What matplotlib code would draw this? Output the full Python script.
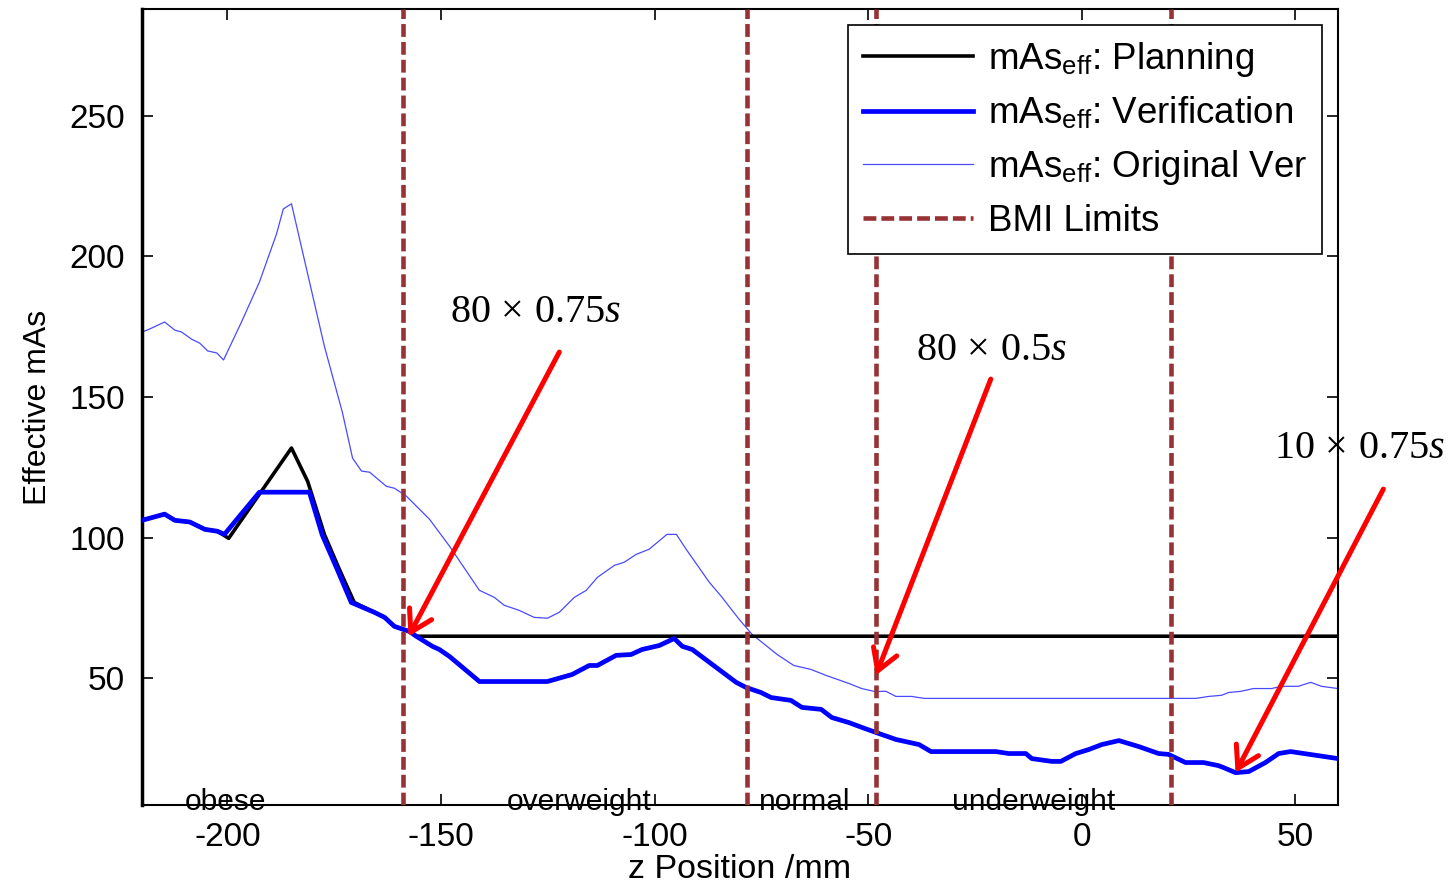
import numpy as np
import matplotlib
matplotlib.use('Agg')
import matplotlib.pyplot as plt

plt.rcParams['font.family'] = ['Liberation Sans', 'DejaVu Sans']
plt.rcParams['mathtext.fontset'] = 'custom'
plt.rcParams['mathtext.rm'] = 'Liberation Serif'
plt.rcParams['mathtext.it'] = 'Liberation Serif:italic'
plt.rcParams['mathtext.sf'] = 'Liberation Sans'
plt.rcParams['axes.unicode_minus'] = False

# planning curve (flat at 65 after the obese region)
plan_z = [-220, -214.7, -212.3, -208.8, -205.3, -202.3, -199.7, -185.0, -181.2,
          -177.3, -173.8, -170.3, -165.6, -163.2, -160.9, -157.4, -155.8, 60]
plan_mas = [106.2, 108.4, 106.2, 105.6, 103.0, 102.3, 99.8, 131.9, 120.0,
            101.2, 88.8, 77.0, 73.5, 71.7, 68.5, 66.7, 65.0, 65.0]

# verification curve
ver_z = [-220, -214.7, -212.3, -208.8, -205.3, -202.3, -200.7, -192.5, -180.8,
         -177.8, -174.3, -171.0, -165.6, -163.2, -160.9, -157.4, -155.8, -152.0,
         -150.4, -148.0, -141.0, -125.1, -119.3, -115.3, -113.4, -109.0, -105.5,
         -102.9, -98.9, -95.4, -93.5, -91.2, -80.9, -78.6, -75.1, -72.7, -68.1,
         -65.5, -61.0, -58.5, -54.5, -51.5, -48.2, -43.5, -38.1, -35.3, -20.1,
         -17.1, -13.1, -11.7, -7.0, -4.9, -1.4, 1.6, 4.7, 8.7, 13.3, 18.0, 20.3,
         24.3, 28.5, 32.0, 33.2, 36.0, 39.1, 43.0, 46.1, 48.9, 60]
ver_mas = [106.2, 108.4, 106.2, 105.6, 103.0, 102.3, 101.2, 116.2, 116.2,
           101.0, 88.8, 77.0, 73.5, 71.7, 68.5, 66.7, 65.0, 61.4,
           60.3, 57.8, 48.9, 48.9, 51.4, 54.6, 54.6, 58.2, 58.5,
           60.3, 61.7, 64.2, 61.4, 60.3, 48.6, 46.8, 45.0, 43.2, 42.2,
           39.7, 39.0, 36.1, 34.3, 32.6, 30.8, 28.3, 26.5, 24.0, 24.0,
           23.3, 23.3, 21.5, 20.5, 20.5, 23.3, 24.7, 26.5, 27.9, 25.8, 23.3, 23.0,
           20.1, 20.1, 19.0, 18.3, 16.5, 16.9, 20.1, 23.3, 24.0, 21.5]

# original verification curve
orig_z = [-220, -218.2, -214.7, -212.3, -210.7, -208.4, -206.5, -204.6, -202.5,
          -200.9, -196.7, -192.5, -188.5, -186.9, -185.0, -182.4, -177.3, -173.1,
          -170.7, -168.6, -166.7, -162.8, -160.9, -158.1, -152.7, -148.0, -141.0,
          -137.5, -135.2, -131.7, -128.2, -125.1, -122.3, -118.8, -116.0, -113.4,
          -109.4, -107.1, -104.3, -101.3, -97.1, -94.9, -92.6, -87.2, -84.4, -80.2,
          -77.2, -71.3, -67.4, -63.4, -59.9, -54.5, -51.5, -48.6, -45.8, -43.5,
          -39.8, -36.9, 26.7, 29.7, 32.7, 34.4, 37.2, 40.2, 44.4, 46.8, 50.7,
          53.6, 56.1, 60]
orig_mas = [173.1, 174.2, 176.7, 173.8, 173.1, 170.6, 169.2, 166.4, 165.7,
            163.2, 176.7, 190.9, 208.0, 216.9, 218.7, 201.6, 168.1, 144.7,
            128.3, 123.7, 123.3, 118.3, 117.6, 114.8, 106.6, 97.0, 81.3,
            78.8, 76.0, 74.2, 71.7, 71.4, 73.5, 78.8, 81.3, 85.9,
            90.2, 91.3, 94.1, 95.9, 101.2, 101.2, 95.9, 84.2, 79.2, 71.0,
            65.7, 58.5, 54.6, 53.2, 51.1, 48.2, 46.4, 45.4, 45.4, 43.6,
            43.6, 42.9, 42.9, 43.6, 44.0, 45.0, 45.4, 46.4, 46.4, 47.2, 47.2,
            48.6, 47.2, 46.4]

bmi_limits = [-159.0, -78.3, -48.2, 20.8]
bmi_names = ['obese', 'overweight', 'normal', 'underweight']
bmi_name_z = [-200.4, -117.6, -64.8, -11.2]

# annotations: label, text position, arrow tail, arrow head
notes = [r'$\mathrm{80}\,\times\,\mathrm{0.75}s$', r'$\mathrm{80}\,\times\,\mathrm{0.5}s$',
         r'$\mathrm{10}\,\times\,\mathrm{0.75}s$']
note_xy = [(-148.0, 180.6), (-38.8, 167.1), (44.9, 132.2)]
tail_xy = [(-122.3, 166.0), (-21.3, 156.4), (70.6, 117.3)]
head_xy = [(-157.6, 64.9), (-48.2, 51.1), (36.0, 16.5)]

fig = plt.figure(figsize=(14.56, 8.86), dpi=100)
ax = fig.add_axes([0.0975, 0.0914, 0.8215, 0.8986])

brown = '#983234'
ax.plot(plan_z, plan_mas, color='black', lw=2.6, label=r'mAs$_{\mathsf{eff}}$: Planning', zorder=3)
ax.plot(ver_z, ver_mas, color='#0000ff', lw=3.4, label=r'mAs$_{\mathsf{eff}}$: Verification', zorder=4)
ax.plot(orig_z, orig_mas, color='#4a4aff', lw=0.9, label=r'mAs$_{\mathsf{eff}}$: Original Ver', zorder=2)
for i, z in enumerate(bmi_limits):
    ax.axvline(z, color=brown, lw=3.3, linestyle=(0, (2.8, 1.1)),
               label='BMI Limits' if i == 0 else None, zorder=5)

for name, z in zip(bmi_names, bmi_name_z):
    ax.text(z, 6.0, name, ha='center', va='center', fontsize=21.5, zorder=6)

for txt, pos, tail, head in zip(notes, note_xy, tail_xy, head_xy):
    ax.text(pos[0], pos[1], txt, fontsize=29, va='center', ha='left', clip_on=False)
    ax.annotate('', xy=head, xytext=tail, annotation_clip=False,
                arrowprops=dict(arrowstyle='->,head_length=0.5,head_width=0.3',
                                color='red', lw=3.6, mutation_scale=30,
                                shrinkA=0, shrinkB=0), zorder=7)

ax.set_xlim(-220, 60)
ax.set_ylim(5, 288)
ax.set_xticks([-200, -150, -100, -50, 0, 50])
ax.set_yticks([50, 100, 150, 200, 250])
ax.tick_params(direction='in', length=8, width=1.2, labelsize=24, top=True, right=True, pad=12)
for s in ax.spines.values():
    s.set_linewidth(1.5)
ax.spines['left'].set_linewidth(2.5)

ax.set_xlabel('z Position /mm', fontsize=24.5, labelpad=1)
ax.set_ylabel('Effective mAs', fontsize=23, labelpad=12)

leg = ax.legend(loc='upper right', bbox_to_anchor=(1322 / 1456, 1 - 25 / 886),
                bbox_transform=fig.transFigure, fontsize=26.5, frameon=True,
                fancybox=False, handlelength=3.0, handletextpad=0.4,
                labelspacing=0.45, borderpad=0.4, borderaxespad=0)
leg.get_frame().set_edgecolor('black')
leg.get_frame().set_linewidth(1.2)
leg.get_frame().set_alpha(1)

fig.savefig('out.png', dpi=100)
